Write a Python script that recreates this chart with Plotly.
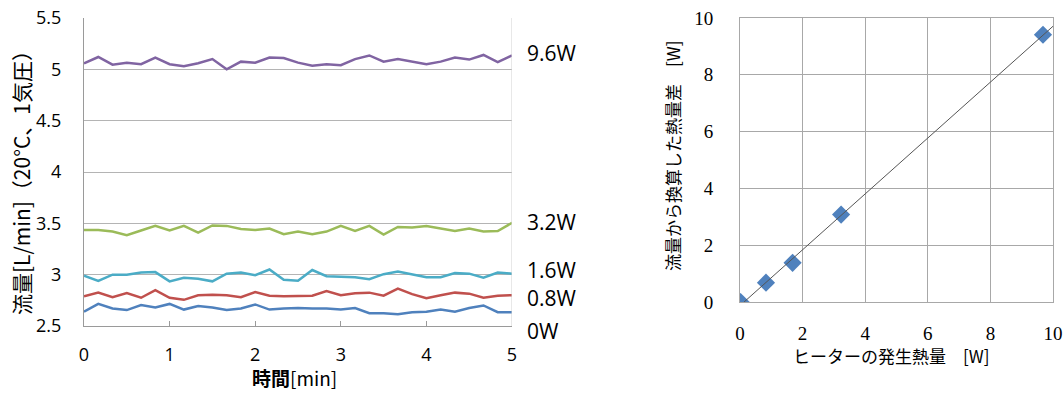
import numpy as np
import plotly.graph_objects as go

# ---------------- data ----------------
time_s = [0, 10, 20, 30, 40, 50, 60, 70, 80, 90, 100, 110, 120, 130, 140, 150,
          160, 170, 180, 190, 200, 210, 220, 230, 240, 250, 260, 270, 280, 290, 300]
time_min = [t / 60 for t in time_s]

flow_0W = [2.64, 2.715, 2.67, 2.655, 2.705, 2.68, 2.715, 2.66, 2.695, 2.68, 2.655, 2.67, 2.71, 2.66, 2.67, 2.675,
           2.67, 2.67, 2.66, 2.675, 2.625, 2.625, 2.615, 2.635, 2.64, 2.66, 2.64, 2.675, 2.70, 2.635, 2.635]
flow_08W = [2.79, 2.825, 2.78, 2.82, 2.775, 2.85, 2.775, 2.755, 2.80, 2.805, 2.80, 2.78, 2.83, 2.795, 2.79, 2.795,
            2.795, 2.84, 2.80, 2.82, 2.825, 2.795, 2.865, 2.81, 2.77, 2.80, 2.825, 2.815, 2.775, 2.795, 2.80]
flow_16W = [2.99, 2.94, 3.0, 3.0, 3.02, 3.025, 2.935, 2.97, 2.96, 2.935, 3.01, 3.02, 2.995, 3.05, 2.95, 2.94,
            3.045, 2.985, 2.98, 2.975, 2.955, 3.005, 3.03, 3.0, 2.975, 2.975, 3.015, 3.01, 2.97, 3.02, 3.01]
flow_32W = [3.435, 3.435, 3.42, 3.385, 3.43, 3.475, 3.43, 3.475, 3.41, 3.48, 3.475, 3.445, 3.435, 3.45, 3.395, 3.42,
            3.395, 3.42, 3.475, 3.425, 3.475, 3.39, 3.465, 3.46, 3.475, 3.45, 3.425, 3.45, 3.42, 3.425, 3.505]
flow_96W = [5.058, 5.12, 5.045, 5.065, 5.05, 5.115, 5.05, 5.03, 5.06, 5.10, 5.0, 5.075, 5.065, 5.115, 5.11, 5.065,
            5.035, 5.05, 5.04, 5.10, 5.135, 5.075, 5.10, 5.075, 5.05, 5.075, 5.115, 5.095, 5.14, 5.07, 5.135]

series_labels = ["0W", "0.8W", "1.6W", "3.2W", "9.6W"]
series_values = [flow_0W, flow_08W, flow_16W, flow_32W, flow_96W]
series_colors = ["#4F81BD", "#C0504D", "#4BACC6", "#9BBB59", "#8064A2"]

left_yticks = [2.5, 3, 3.5, 4, 4.5, 5, 5.5]
left_xticks = [0, 1, 2, 3, 4, 5]

heater_W = [0.02, 0.83, 1.68, 3.23, 9.68]
derived_W = [0.0, 0.68, 1.38, 3.08, 9.41]
right_ticks = [0, 2, 4, 6, 8, 10]

# ---------------- figure ----------------
W, H = 1063, 394
fig = go.Figure()

def px_x(p):
    return p / W

def px_y(p):
    return 1 - p / H

LFONT = "Open Sans, Noto Sans CJK JP, sans-serif"
JFONT = "Noto Sans CJK JP, sans-serif"
SFONT = "Liberation Serif"

for name, vals, col in zip(series_labels, series_values, series_colors):
    fig.add_trace(go.Scatter(x=time_min, y=vals, mode="lines", name=name,
                             line=dict(color=col, width=2.5), xaxis="x", yaxis="y",
                             showlegend=False, hoverinfo="skip"))

# right-hand labels on the left chart (pixel centres of each label)
label_px_y = [331, 298, 270, 222, 53]
for name, py in zip(series_labels, label_px_y):
    fig.add_annotation(x=px_x(525), y=px_y(py), xref="paper", yref="paper", text=name,
                       showarrow=False, xanchor="left", yanchor="middle",
                       font=dict(family=LFONT, size=21, color="#000"))

# scatter and trend line
fig.add_trace(go.Scatter(x=heater_W, y=derived_W, mode="markers",
                         marker=dict(symbol="diamond", size=14, color="#4F81BD",
                                     line=dict(width=0)),
                         xaxis="x2", yaxis="y2", showlegend=False, hoverinfo="skip"))
m, b = np.polyfit(heater_W, derived_W, 1)
tx = np.array([-b / m, 10.0])
fig.add_trace(go.Scatter(x=tx, y=m * tx + b, mode="lines",
                         line=dict(color="#555555", width=1),
                         xaxis="x2", yaxis="y2", showlegend=False, hoverinfo="skip"))

grid_l = "#B4B4B4"
fig.update_layout(
    width=W, height=H, autosize=False,
    margin=dict(l=0, r=0, t=0, b=0, pad=0, autoexpand=False),
    paper_bgcolor="white", plot_bgcolor="white",
    xaxis=dict(domain=[px_x(84), px_x(512)], range=[0, 5], tickvals=left_xticks,
               showgrid=False, zeroline=False, showline=True, linecolor="#9A9A9A", linewidth=1,
               mirror=False, ticks="inside", ticklen=5, tickcolor="#9A9A9A", automargin=False,
               tickfont=dict(family=LFONT, size=18, color="#000"), ticklabelstandoff=12),
    yaxis=dict(domain=[px_y(326), px_y(18)], range=[2.5, 5.5], tickvals=left_yticks,
               tickformat="~g", automargin=False,
               showgrid=True, gridcolor=grid_l, gridwidth=1, zeroline=False,
               showline=True, linecolor="#9A9A9A", linewidth=1, ticks="",
               tickfont=dict(family=LFONT, size=18, color="#000"), ticklabelstandoff=18),
    xaxis2=dict(domain=[px_x(740), px_x(1053)], range=[0, 10], tickvals=right_ticks,
                showgrid=True, gridcolor="#A8A8A8", gridwidth=1, zeroline=False,
                showline=True, linecolor="#A8A8A8", mirror=True, ticks="", automargin=False,
                tickfont=dict(family=SFONT, size=19, color="#000"), ticklabelstandoff=14,
                anchor="y2"),
    yaxis2=dict(domain=[px_y(302), px_y(18)], range=[0, 10], tickvals=right_ticks,
                showgrid=True, gridcolor="#A8A8A8", gridwidth=1, zeroline=False,
                showline=True, linecolor="#A8A8A8", mirror=True, ticks="", automargin=False,
                tickfont=dict(family=SFONT, size=19, color="#000"), ticklabelstandoff=22,
                anchor="x2"),
)

# right border of left plot (light)
fig.add_shape(type="line", xref="x", yref="paper", x0=5, x1=5, y0=px_y(326), y1=px_y(18),
              line=dict(color="#D0D0D0", width=1))

# axis titles
fig.add_annotation(x=px_x(21), y=px_y(178), xref="paper", yref="paper",
                   text="流量[L/min]（20°C、1気圧）", textangle=-90, showarrow=False,
                   xanchor="center", yanchor="middle",
                   font=dict(family=JFONT, size=21, color="#000"))
fig.add_annotation(x=px_x(294), y=px_y(377), xref="paper", yref="paper",
                   text="<b>時間</b>[min]", showarrow=False, xanchor="center", yanchor="middle",
                   font=dict(family=JFONT, size=19, color="#000"))
fig.add_annotation(x=px_x(891), y=px_y(355), xref="paper", yref="paper",
                   text="ヒーターの発生熱量　[W]", showarrow=False, xanchor="center", yanchor="middle",
                   font=dict(family=JFONT, size=17, color="#000"))
fig.add_annotation(x=px_x(672), y=px_y(156), xref="paper", yref="paper",
                   text="流量から換算した熱量差　[W]", textangle=-90, showarrow=False,
                   xanchor="center", yanchor="middle",
                   font=dict(family=JFONT, size=17, color="#000"))

fig.write_html("out.html", config={"displayModeBar": False},
               post_script="document.body.style.margin='0px';document.body.style.overflow='hidden';")
